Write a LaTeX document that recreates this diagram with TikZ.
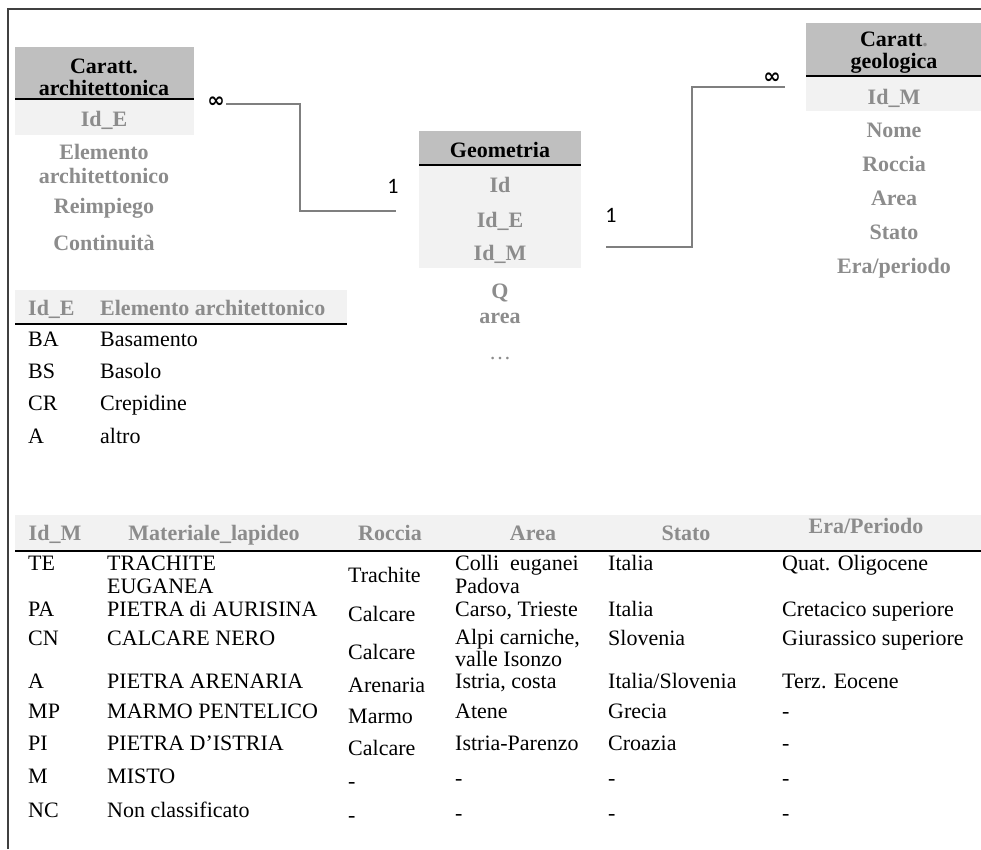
\documentclass[tikz,border=0pt]{standalone}
\usepackage{fontspec}
\setmainfont{Liberation Serif}
\newfontfamily\lblfont{Carlito}
\newfontfamily\symfnt{DejaVu Sans}
\definecolor{hdrgray}{HTML}{BFBFBF}
\definecolor{bandgray}{HTML}{F2F2F2}
\definecolor{fldgray}{HTML}{8C8C8C}
\definecolor{conngray}{HTML}{7F7F7F}
\definecolor{framegray}{HTML}{404040}
\tikzset{
  hdrbox/.style={fill=hdrgray, draw=none},
  bandbox/.style={fill=bandgray, draw=none},
  ruleline/.style={draw=black, line width=2pt},
  tname/.style={font=\fontsize{22}{24}\selectfont\bfseries, text=black, inner sep=0pt, anchor=base},
  fld/.style={font=\fontsize{22}{24}\selectfont\bfseries, text=fldgray, inner sep=0pt, anchor=base},
  cell/.style={font=\fontsize{22}{24}\selectfont, text=black, inner sep=0pt, anchor=base west},
  conn/.style={draw=conngray, line width=1.6pt},
  onelbl/.style={font=\lblfont\fontsize{22}{24}\selectfont, inner sep=0pt},
  inflbl/.style={font=\symfnt\bfseries\fontsize{21}{22}\selectfont, inner sep=0pt},
  frameline/.style={draw=framegray, line width=1.2pt}
}
\begin{document}
\begin{tikzpicture}[x=1pt,y=-1pt]
\useasboundingbox (0,0) rectangle (981,849);
% frame
\coordinate (fbl) at (8,849);
\coordinate (ftl) at (8,9);
\coordinate (ftr) at (981,9);
\draw[frameline] (fbl) -- (ftl) -- (ftr);

% ---------- Caratt. architettonica ----------
\fill[hdrbox] (15,47) rectangle (194,99);
\fill[bandbox] (15,100) rectangle (194,135);
\draw[ruleline] (15,99) -- (194,99);
\node[tname] (ca1) at (104,73) {Caratt.};
\node[tname] (ca2) at (104,95) {architettonica};
\node[fld] (caid) at (104,126) {Id\_E};
\node[fld] (cael1) at (104,159) {Elemento};
\node[fld] (cael2) at (104,183) {architettonico};
\node[fld] (care) at (104,213) {Reimpiego};
\node[fld] (caco) at (104,250) {Continuità};

% ---------- Geometria ----------
\fill[hdrbox] (419,131) rectangle (581,165);
\fill[bandbox] (419,166) rectangle (581,268);
\draw[ruleline] (419,165) -- (581,165);
\node[tname] (ge) at (500,157) {Geometria};
\node[fld] (geid) at (500,192) {Id};
\node[fld] (geide) at (500,227) {Id\_E};
\node[fld] (geidm) at (500,260) {Id\_M};
\node[fld] (geq) at (500,298) {Q};
\node[fld] (gear) at (500,323) {area};
\node[fld, font=\fontsize{22}{24}\selectfont] (gedot) at (500,359) {\dots};

% ---------- Caratt. geologica ----------
\fill[hdrbox] (806,23) rectangle (981,76);
\fill[bandbox] (806,77) rectangle (981,111);
\draw[ruleline] (806,76) -- (981,76);
\node[tname] (cg1) at (894,46) {Caratt\textcolor{fldgray}{.}};
\node[tname] (cg2) at (894,68) {geologica};
\node[fld] (cgid) at (894,104) {Id\_M};
\node[fld] (cgno) at (894,137) {Nome};
\node[fld] (cgro) at (894,171) {Roccia};
\node[fld] (cgar) at (894,205) {Area};
\node[fld] (cgst) at (894,239) {Stato};
\node[fld] (cger) at (894,273) {Era/periodo};

% ---------- connectors ----------
\node[inflbl] (inf1) at (216,102) {∞};
\node[onelbl] (one1) at (393,186) {1};
\node[onelbl] (one2) at (611,215) {1};
\node[inflbl] (inf2) at (772,78) {∞};
\coordinate (c1a) at (226,104);
\coordinate (c1b) at (300,104);
\coordinate (c1c) at (300,211);
\coordinate (c1d) at (396,211);
\draw[conn] (c1a) -- (c1b) -- (c1c) -- (c1d);
\coordinate (c2a) at (606,247);
\coordinate (c2b) at (692,247);
\coordinate (c2c) at (692,87);
\coordinate (c2d) at (785,87);
\draw[conn] (c2a) -- (c2b) -- (c2c) -- (c2d);

% ---------- small table ----------
\fill[bandbox] (15,290) rectangle (347,323);
\draw[ruleline] (15,324) -- (347,324);
\node[fld, anchor=base west] (sh1) at (28,315) {Id\_E};
\node[fld, anchor=base west] (sh2) at (100,315) {Elemento architettonico};
\node[cell] (s1a) at (28,346) {BA};  \node[cell] (s1b) at (100,346) {Basamento};
\node[cell] (s2a) at (28,378) {BS};  \node[cell] (s2b) at (100,378) {Basolo};
\node[cell] (s3a) at (28,410) {CR};  \node[cell] (s3b) at (100,410) {Crepidine};
\node[cell] (s4a) at (28,443) {A};   \node[cell] (s4b) at (100,443) {altro};

% ---------- big table ----------
\fill[bandbox] (15,515) rectangle (981,550);
\draw[ruleline] (15,551) -- (981,551);
\node[fld] (bh1) at (55,540) {Id\_M};
\node[fld] (bh2) at (214,540) {Materiale\_lapideo};
\node[fld] (bh3) at (390,540) {Roccia};
\node[fld] (bh4) at (533,540) {Area};
\node[fld] (bh5) at (686,540) {Stato};
\node[fld] (bh6) at (866,533) {Era/Periodo};

% row TE
\node[cell] (r1a) at (28,570) {TE};
\node[cell] (r1b) at (107,570) {TRACHITE};
\node[cell] (r1b2) at (107,593) {EUGANEA};
\node[cell] (r1c) at (348,582) {Trachite};
\node[cell] (r1d) at (455,570) {Colli\hspace{0.5em}euganei};
\node[cell] (r1d2) at (455,593) {Padova};
\node[cell] (r1e) at (608,570) {Italia};
\node[cell] (r1f) at (782,570) {Quat. Oligocene};
% row PA
\node[cell] (r2a) at (28,616) {PA};
\node[cell] (r2b) at (107,616) {PIETRA di AURISINA};
\node[cell] (r2c) at (348,621) {Calcare};
\node[cell] (r2d) at (455,616) {Carso, Trieste};
\node[cell] (r2e) at (608,616) {Italia};
\node[cell] (r2f) at (782,616) {Cretacico superiore};
% row CN
\node[cell] (r3a) at (28,645) {CN};
\node[cell] (r3b) at (107,645) {CALCARE NERO};
\node[cell] (r3c) at (348,659) {Calcare};
\node[cell] (r3d) at (455,644) {Alpi carniche,};
\node[cell] (r3d2) at (455,666) {valle Isonzo};
\node[cell] (r3e) at (608,645) {Slovenia};
\node[cell] (r3f) at (782,645) {Giurassico superiore};
% row A
\node[cell] (r4a) at (28,688) {A};
\node[cell] (r4b) at (107,688) {PIETRA ARENARIA};
\node[cell] (r4c) at (348,692) {Arenaria};
\node[cell] (r4d) at (455,688) {Istria, costa};
\node[cell] (r4e) at (608,688) {Italia/Slovenia};
\node[cell] (r4f) at (782,688) {Terz. Eocene};
% row MP
\node[cell] (r5a) at (28,718) {MP};
\node[cell] (r5b) at (107,718) {MARMO PENTELICO};
\node[cell] (r5c) at (348,723) {Marmo};
\node[cell] (r5d) at (455,718) {Atene};
\node[cell] (r5e) at (608,718) {Grecia};
\node[cell] (r5f) at (782,718) {-};
% row PI
\node[cell] (r6a) at (28,750) {PI};
\node[cell] (r6b) at (107,750) {PIETRA D’ISTRIA};
\node[cell] (r6c) at (348,755) {Calcare};
\node[cell] (r6d) at (455,750) {Istria-Parenzo};
\node[cell] (r6e) at (608,750) {Croazia};
\node[cell] (r6f) at (782,750) {-};
% row M
\node[cell] (r7a) at (28,783) {M};
\node[cell] (r7b) at (107,783) {MISTO};
\node[cell] (r7c) at (348,788) {-};
\node[cell] (r7d) at (455,785) {-};
\node[cell] (r7e) at (608,785) {-};
\node[cell] (r7f) at (782,785) {-};
% row NC
\node[cell] (r8a) at (28,817) {NC};
\node[cell] (r8b) at (107,817) {Non classificato};
\node[cell] (r8c) at (348,822) {-};
\node[cell] (r8d) at (455,820) {-};
\node[cell] (r8e) at (608,820) {-};
\node[cell] (r8f) at (782,820) {-};
\end{tikzpicture}
\end{document}
